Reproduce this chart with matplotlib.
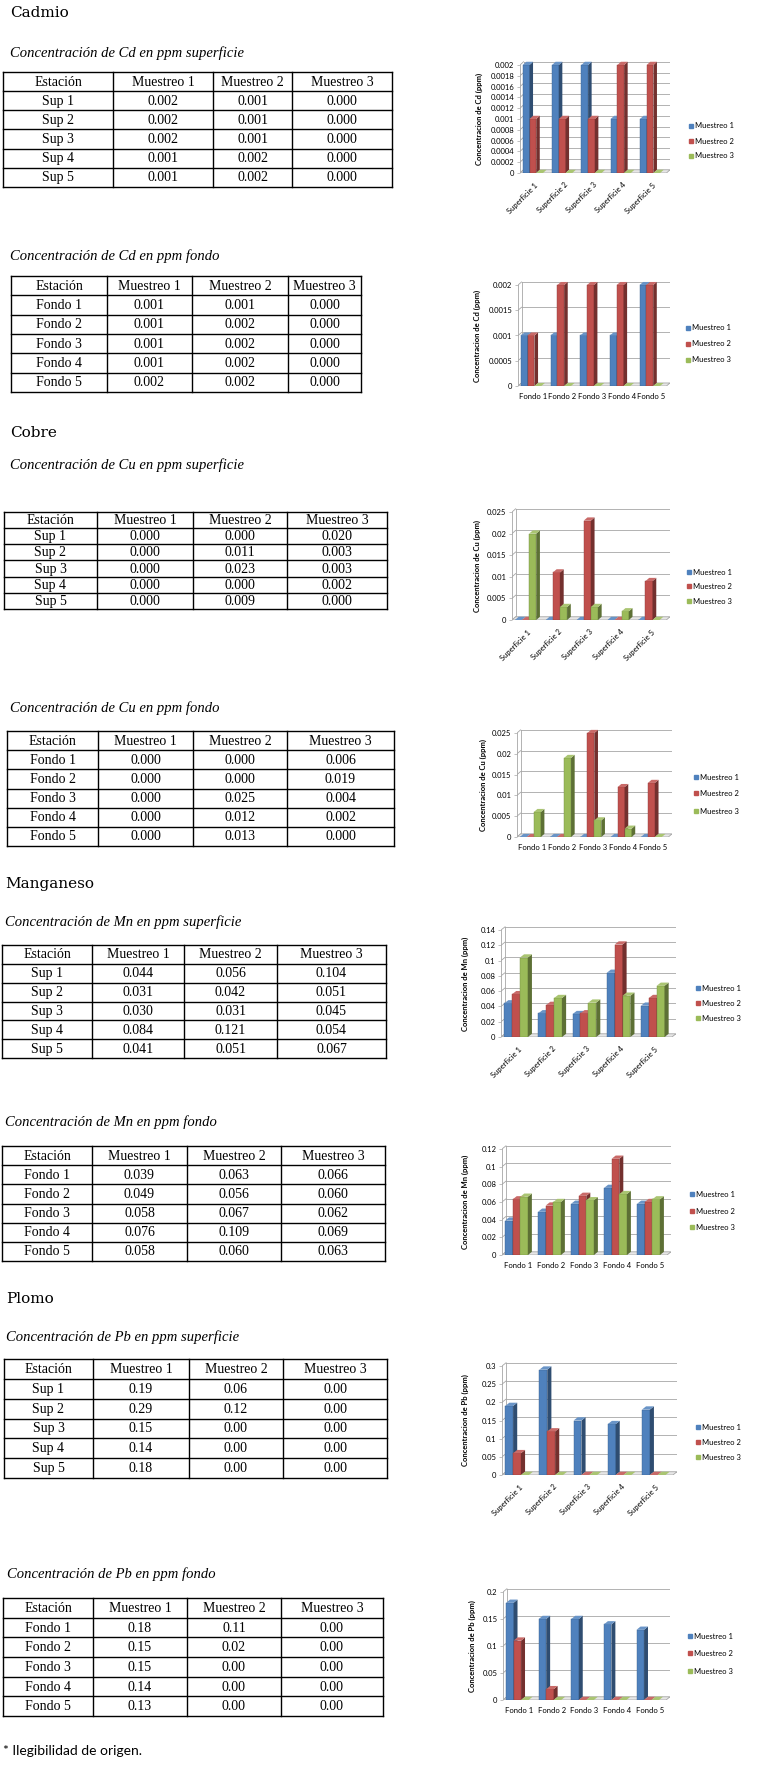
import matplotlib
matplotlib.use("Agg")
import matplotlib.pyplot as plt
from matplotlib.patches import Polygon, Rectangle
from matplotlib.colors import to_rgb
import numpy as np

series_names = ["Muestreo 1", "Muestreo 2", "Muestreo 3"]
table_header = ["Estación", "Muestreo 1", "Muestreo 2", "Muestreo 3"]
stations_sup = ["Sup 1", "Sup 2", "Sup 3", "Sup 4", "Sup 5"]
stations_fondo = ["Fondo 1", "Fondo 2", "Fondo 3", "Fondo 4", "Fondo 5"]
chart_sup = ["Superficie 1", "Superficie 2", "Superficie 3", "Superficie 4", "Superficie 5"]
chart_fondo = ["Fondo 1", "Fondo 2", "Fondo 3", "Fondo 4", "Fondo 5"]

cd_sup_m1 = [0.002, 0.002, 0.002, 0.001, 0.001]
cd_sup_m2 = [0.001, 0.001, 0.001, 0.002, 0.002]
cd_sup_m3 = [0.000, 0.000, 0.000, 0.000, 0.000]

cd_fondo_m1 = [0.001, 0.001, 0.001, 0.001, 0.002]
cd_fondo_m2 = [0.001, 0.002, 0.002, 0.002, 0.002]
cd_fondo_m3 = [0.000, 0.000, 0.000, 0.000, 0.000]

cu_sup_m1 = [0.000, 0.000, 0.000, 0.000, 0.000]
cu_sup_m2 = [0.000, 0.011, 0.023, 0.000, 0.009]
cu_sup_m3 = [0.020, 0.003, 0.003, 0.002, 0.000]

cu_fondo_m1 = [0.000, 0.000, 0.000, 0.000, 0.000]
cu_fondo_m2 = [0.000, 0.000, 0.025, 0.012, 0.013]
cu_fondo_m3 = [0.006, 0.019, 0.004, 0.002, 0.000]

mn_sup_m1 = [0.044, 0.031, 0.030, 0.084, 0.041]
mn_sup_m2 = [0.056, 0.042, 0.031, 0.121, 0.051]
mn_sup_m3 = [0.104, 0.051, 0.045, 0.054, 0.067]

mn_fondo_m1 = [0.039, 0.049, 0.058, 0.076, 0.058]
mn_fondo_m2 = [0.063, 0.056, 0.067, 0.109, 0.060]
mn_fondo_m3 = [0.066, 0.060, 0.062, 0.069, 0.063]

pb_sup_m1 = [0.19, 0.29, 0.15, 0.14, 0.18]
pb_sup_m2 = [0.06, 0.12, 0.00, 0.00, 0.00]
pb_sup_m3 = [0.00, 0.00, 0.00, 0.00, 0.00]

pb_fondo_m1 = [0.18, 0.15, 0.15, 0.14, 0.13]
pb_fondo_m2 = [0.11, 0.02, 0.00, 0.00, 0.00]
pb_fondo_m3 = [0.00, 0.00, 0.00, 0.00, 0.00]

# ---- page setup (pixel coordinates) ----
W, H = 768, 1767
fig = plt.figure(figsize=(W / 100, H / 100), dpi=100)
page = fig.add_axes([0, 0, 1, 1])
page.set_xlim(0, W)
page.set_ylim(H, 0)
page.axis("off")

SERIF = "Liberation Serif"
SANS = "Lato"
COLORS = ["#4F81BD", "#C0504D", "#9BBB59"]


def frac(x0, y0, x1, y1):
    return [x0 / W, 1 - y1 / H, (x1 - x0) / W, (y1 - y0) / H]


def shade(c, k):
    r, g, b = to_rgb(c)
    if k < 1:
        return (r * k, g * k, b * k)
    return (r + (1 - r) * (k - 1), g + (1 - g) * (k - 1), b + (1 - b) * (k - 1))


def draw_table(cols, y0, y1, stations, m1, m2, m3, ndec):
    ys = np.linspace(y0, y1, len(stations) + 2)
    for y in ys:
        page.plot([cols[0], cols[-1]], [y, y], color="black", lw=1.0)
    for x in cols:
        page.plot([x, x], [y0, y1], color="black", lw=1.0)
    rows = [table_header] + [
        [s, f"{a:.{ndec}f}", f"{b:.{ndec}f}", f"{c:.{ndec}f}"]
        for s, a, b, c in zip(stations, m1, m2, m3)
    ]
    for r, row in enumerate(rows):
        yc = (ys[r] + ys[r + 1]) / 2
        for c, txt in enumerate(row):
            xc = (cols[c] + cols[c + 1]) / 2
            page.text(xc, yc + 0.5, txt, ha="center", va="center",
                      fontsize=10, family=SERIF)


def draw_chart(px, labels, series, ymax, step, ylabel, rotate, legend_x, legend_y, ylabel_x):
    x0, ytop, x1, y0 = px
    f = 0.045
    ax = fig.add_axes(frac(x0, ytop - f * (y0 - ytop), x1, y0))
    n = len(labels)
    dx = 0.12
    dy = 0.03 * ymax
    ax.set_xlim(-0.5, n - 0.5 + dx)
    ax.set_ylim(0, ymax * (1 + f))
    ticks = np.arange(0, ymax + step / 2, step)
    grid = "#a6a6a6"
    for t in ticks:
        ax.plot([-0.5, -0.5 + dx], [t, t + dy], color=grid, lw=0.6, zorder=1)
        ax.plot([-0.5 + dx, n - 0.5 + dx], [t + dy, t + dy], color=grid, lw=0.6, zorder=1)
    ax.plot([-0.5, -0.5], [0, ymax], color=grid, lw=0.6, zorder=1)
    ax.plot([-0.5 + dx, -0.5 + dx], [dy, ymax + dy], color=grid, lw=0.6, zorder=1)
    ax.add_patch(Polygon([(-0.5, 0), (n - 0.5, 0), (n - 0.5 + dx, dy), (-0.5 + dx, dy)],
                         closed=True, facecolor="#e6e6e6", edgecolor=grid, lw=0.6, zorder=1))
    w = 0.23
    xc = np.arange(n)
    for i, vals in enumerate(series):
        col = COLORS[i]
        xs = xc + (i - 1) * w - 0.06
        ax.bar(xs, vals, width=w, color=col, edgecolor=shade(col, 0.75), lw=0.3, zorder=3 + i)
        for x, v in zip(xs, vals):
            xl, xr = x - w / 2, x + w / 2
            ax.add_patch(Polygon([(xr, 0), (xr + dx, dy), (xr + dx, v + dy), (xr, v)],
                                 closed=True, facecolor=shade(col, 0.6), lw=0, zorder=3 + i))
            ax.add_patch(Polygon([(xl, v), (xl + dx, v + dy), (xr + dx, v + dy), (xr, v)],
                                 closed=True, facecolor=shade(col, 1.15), lw=0, zorder=3 + i))
    for s in ax.spines.values():
        s.set_visible(False)
    ax.set_yticks(ticks)
    ax.set_yticklabels([f"{t:g}" for t in ticks], fontsize=5.5, family=SANS)
    ax.tick_params(axis="y", length=2, width=0.5, color=grid, pad=2)
    ax.set_xticks(xc)
    if rotate:
        ax.set_xticklabels(labels, rotation=45, ha="right", rotation_mode="anchor",
                           fontsize=5.5, family=SANS)
        ax.tick_params(axis="x", length=0, pad=6)
    else:
        ax.set_xticklabels(labels, fontsize=5.5, family=SANS)
        ax.tick_params(axis="x", length=0, pad=5)
    page.text(ylabel_x, (ytop + y0) / 2, ylabel, rotation=90, ha="center", va="center",
              fontsize=5.5, fontweight="bold", family=SANS)
    for i, name in enumerate(series_names):
        yy = legend_y[i]
        page.add_patch(Rectangle((legend_x, yy - 2), 4, 4, color=COLORS[i]))
        page.text(legend_x + 6, yy, name, ha="left", va="center", fontsize=5.5, family=SANS)


def heading(x, y, txt):
    page.text(x, y, txt, ha="left", va="center", fontsize=11, family="DejaVu Serif")


def subtitle(x, y, txt):
    page.text(x, y, txt, ha="left", va="center", fontsize=10.5, family=SERIF, style="italic")


# ---- Cadmio ----
heading(10, 13, "Cadmio")
subtitle(10, 53, "Concentración de Cd en ppm superficie")
draw_table([3, 113, 213, 292, 392], 72, 187, stations_sup, cd_sup_m1, cd_sup_m2, cd_sup_m3, 3)
draw_chart((520, 65, 670, 173), chart_sup, [cd_sup_m1, cd_sup_m2, cd_sup_m3], 0.002, 0.0002,
           "Concentracion de Cd (ppm)", True, 689, [126, 141, 156], 479)

subtitle(10, 256, "Concentración de Cd en ppm fondo")
draw_table([11, 107, 192, 288, 361], 276, 392, stations_fondo, cd_fondo_m1, cd_fondo_m2, cd_fondo_m3, 3)
draw_chart((518, 285, 670, 386), chart_fondo, [cd_fondo_m1, cd_fondo_m2, cd_fondo_m3], 0.002, 0.0005,
           "Concentracion de Cd (ppm)", False, 686, [328, 344, 360], 477)

# ---- Cobre ----
heading(10, 433, "Cobre")
subtitle(10, 465, "Concentración de Cu en ppm superficie")
draw_table([4, 97, 193, 287, 387], 512, 609, stations_sup, cu_sup_m1, cu_sup_m2, cu_sup_m3, 3)
draw_chart((512, 512, 670, 620), chart_sup, [cu_sup_m1, cu_sup_m2, cu_sup_m3], 0.025, 0.005,
           "Concentracion de Cu (ppm)", True, 687, [572, 586, 601], 477)

subtitle(10, 708, "Concentración de Cu en ppm fondo")
draw_table([7, 98, 193, 287, 394], 731, 846, stations_fondo, cu_fondo_m1, cu_fondo_m2, cu_fondo_m3, 3)
draw_chart((517, 733, 672, 837), chart_fondo, [cu_fondo_m1, cu_fondo_m2, cu_fondo_m3], 0.025, 0.005,
           "Concentracion de Cu (ppm)", False, 694, [777, 793, 811], 483)

# ---- Manganeso ----
heading(5, 884, "Manganeso")
subtitle(5, 922, "Concentración de Mn en ppm superficie")
draw_table([2, 92, 184, 277, 386], 945, 1058, stations_sup, mn_sup_m1, mn_sup_m2, mn_sup_m3, 3)
draw_chart((501, 930, 676, 1037), chart_sup, [mn_sup_m1, mn_sup_m2, mn_sup_m3], 0.14, 0.02,
           "Concentracion de Mn (ppm)", True, 696, [988, 1003, 1018], 465)

subtitle(5, 1122, "Concentración de Mn en ppm fondo")
draw_table([2, 92, 187, 281, 385], 1146, 1261, stations_fondo, mn_fondo_m1, mn_fondo_m2, mn_fondo_m3, 3)
draw_chart((502, 1149, 671, 1255), chart_fondo, [mn_fondo_m1, mn_fondo_m2, mn_fondo_m3], 0.12, 0.02,
           "Concentracion de Mn (ppm)", False, 690, [1194, 1211, 1227], 465)

# ---- Plomo ----
heading(6, 1299, "Plomo")
subtitle(6, 1337, "Concentración de Pb en ppm superficie")
draw_table([4, 93, 189, 283, 387], 1359, 1478, stations_sup, pb_sup_m1, pb_sup_m2, pb_sup_m3, 2)
draw_chart((502, 1366, 677, 1475), chart_sup, [pb_sup_m1, pb_sup_m2, pb_sup_m3], 0.3, 0.05,
           "Concentracion de Pb (ppm)", True, 696, [1427, 1442, 1457], 465)

subtitle(7, 1574, "Concentración de Pb en ppm fondo")
draw_table([3, 93, 187, 281, 383], 1598, 1716, stations_fondo, pb_fondo_m1, pb_fondo_m2, pb_fondo_m3, 2)
draw_chart((503, 1592, 670, 1700), chart_fondo, [pb_fondo_m1, pb_fondo_m2, pb_fondo_m3], 0.2, 0.05,
           "Concentracion de Pb (ppm)", False, 688, [1636, 1653, 1671], 472)

page.text(3, 1751, "* Ilegibilidad de origen.", ha="left", va="center", fontsize=10, family=SANS)

fig.savefig("out.png", dpi=100)
plt.close(fig)
